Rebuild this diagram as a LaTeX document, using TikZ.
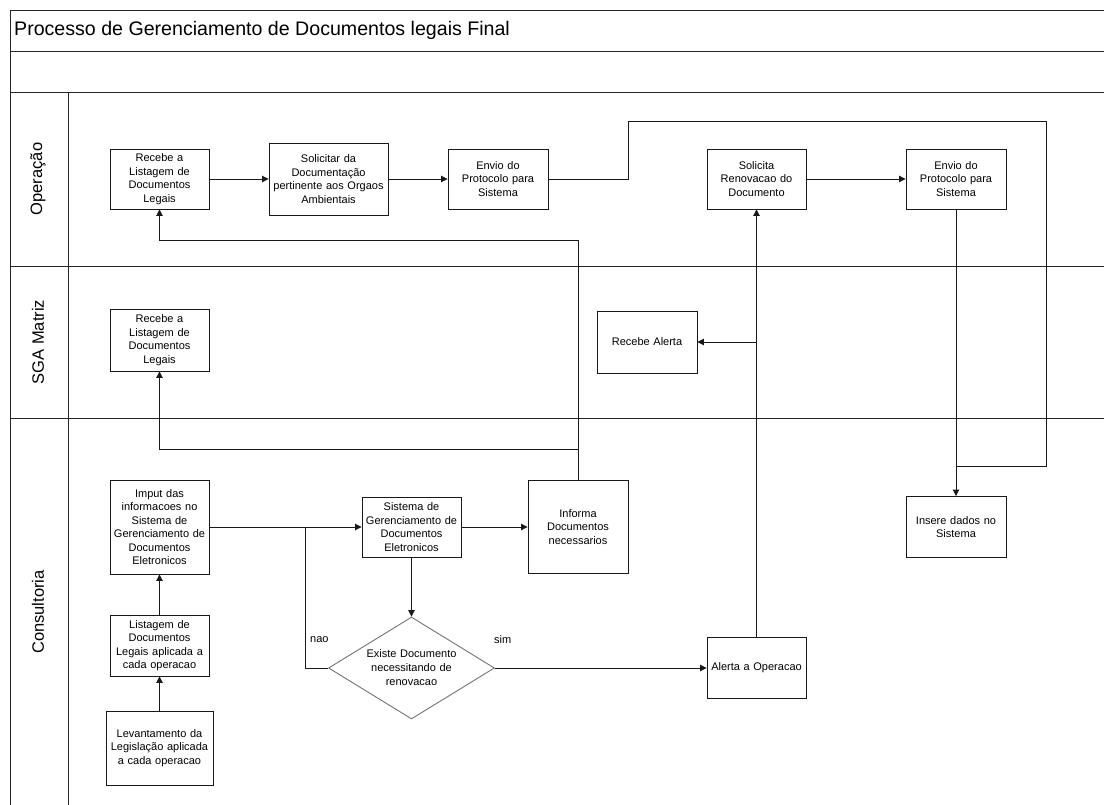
\documentclass[tikz,border=0pt]{standalone}
\usepackage{fontspec}
\setmainfont{Liberation Sans}
\usetikzlibrary{shapes.geometric,arrows.meta}
\begin{document}
\begin{tikzpicture}[x=1pt,y=-1pt,
  frame/.style={draw=black!85,line width=0.9pt},
  box/.style={draw=black!90,line width=0.9pt,rectangle,align=center,inner sep=1pt,
    font=\fontsize{11}{13.5}\selectfont},
  conn/.style={draw=black!90,line width=0.9pt},
  arr/.style={conn,-{Triangle[length=6.5pt,width=6.5pt]}},
  lane/.style={rotate=90,font=\fontsize{16.5}{19}\selectfont},
  lbl/.style={font=\fontsize{11}{13}\selectfont,inner sep=0pt}]
\useasboundingbox (0,0) rectangle (1104,805);
% frame
\draw[frame] (1104,10) -- (10,10) -- (10,805);
\draw[frame] (10,51) -- (1104,51);
\draw[frame] (10,92) -- (1104,92);
\draw[frame] (10,266) -- (1104,266);
\draw[frame] (10,418) -- (1104,418);
\draw[frame] (68,92) -- (68,805);
\node[anchor=west,inner sep=0pt,font=\fontsize{19.6}{23}\selectfont] (title) at (14,30) {Processo de Gerenciamento de Documentos legais Final};
\node[lane] (l1) at (38,179) {Operação};
\node[lane] (l2) at (38,342) {SGA Matriz};
\node[lane] (l3) at (38,612) {Consultoria};
% nodes
\node[box,minimum width=99pt,minimum height=60pt,text width=97pt] (A) at (159.5,179) {Recebe a\\Listagem de\\Documentos\\Legais};
\node[box,minimum width=119pt,minimum height=72pt,text width=117pt] (B) at (328.5,179) {Solicitar da\\Documentação\\pertinente aos Orgaos\\Ambientais};
\node[box,minimum width=100pt,minimum height=60pt,text width=98pt] (C) at (498,179) {Envio do\\Protocolo para\\Sistema};
\node[box,minimum width=99pt,minimum height=60pt,text width=97pt] (D) at (756.5,179) {Solicita\\Renovacao do\\Documento};
\node[box,minimum width=100pt,minimum height=60pt,text width=98pt] (E) at (956,179) {Envio do\\Protocolo para\\Sistema};
\node[box,minimum width=99pt,minimum height=62pt,text width=97pt] (F) at (159.5,340) {Recebe a\\Listagem de\\Documentos\\Legais};
\node[box,minimum width=100pt,minimum height=62pt,text width=98pt] (G) at (647,342) {Recebe Alerta};
\node[box,minimum width=99pt,minimum height=94pt,text width=97pt] (H) at (159.5,527) {Imput das\\informacoes no\\Sistema de\\Gerenciamento de\\Documentos\\Eletronicos};
\node[box,minimum width=99pt,minimum height=61pt,text width=97pt] (I) at (159.5,645.5) {Listagem de\\Documentos\\Legais aplicada a\\cada operacao};
\node[box,minimum width=107pt,minimum height=74pt,text width=105pt] (J) at (159.5,748) {Levantamento da\\Legislação aplicada\\a cada operacao};
\node[box,minimum width=99pt,minimum height=60pt,text width=97pt] (K) at (411.5,527) {Sistema de\\Gerenciamento de\\Documentos\\Eletronicos};
\node[box,minimum width=100pt,minimum height=93pt,text width=98pt] (L) at (578,527) {Informa\\Documentos\\necessarios};
\node[draw=black!55,line width=0.9pt,diamond,aspect=1.63,minimum width=166pt,minimum height=102pt,
  inner sep=0pt,text width=92pt,align=center,font=\fontsize{11}{14}\selectfont] (M) at (411.5,668) {Existe Documento\\necessitando de\\renovacao};
\node[box,minimum width=99pt,minimum height=61pt,text width=97pt] (N) at (756.5,668) {Alerta a Operacao};
\node[box,minimum width=100pt,minimum height=61pt,text width=98pt] (O) at (956,527) {Insere dados no\\Sistema};
% junction coordinates
\coordinate (c1) at (628,179);
\coordinate (c2) at (628,121);
\coordinate (c3) at (1046,121);
\coordinate (c4) at (1046,466);
\coordinate (jO) at (956,466);
\coordinate (jA) at (578,240);
\coordinate (jF) at (578,449);
\coordinate (jG) at (756.5,342);
\coordinate (jH) at (305,527);
% connectors
\draw[arr] (A) -- (B);
\draw[arr] (B) -- (C);
\draw[conn] (C.east) -- (c1) -- (c2) -- (c3) -- (c4) -- (jO);
\draw[arr] (E.south) -- (O.north);
\draw[arr] (D) -- (E);
\draw[arr] (L.north) -- (jA) -| (A.south);
\draw[arr] (jF) -| (F.south);
\draw[arr] (J) -- (I);
\draw[arr] (I) -- (H);
\draw[arr] (H.east) -- (K.west);
\draw[arr] (K.east) -- (L.west);
\draw[arr] (K.south) -- (M.north);
\draw[conn] (M.west) -| (jH);
\draw[arr] (M.east) -- (N.west);
\draw[arr] (N.north) -- (D.south);
\draw[arr] (jG) -- (G.east);
\node[lbl,anchor=west] (nao) at (310,640) {nao};
\node[lbl,anchor=west] (sim) at (494,640) {sim};
\end{tikzpicture}
\end{document}
